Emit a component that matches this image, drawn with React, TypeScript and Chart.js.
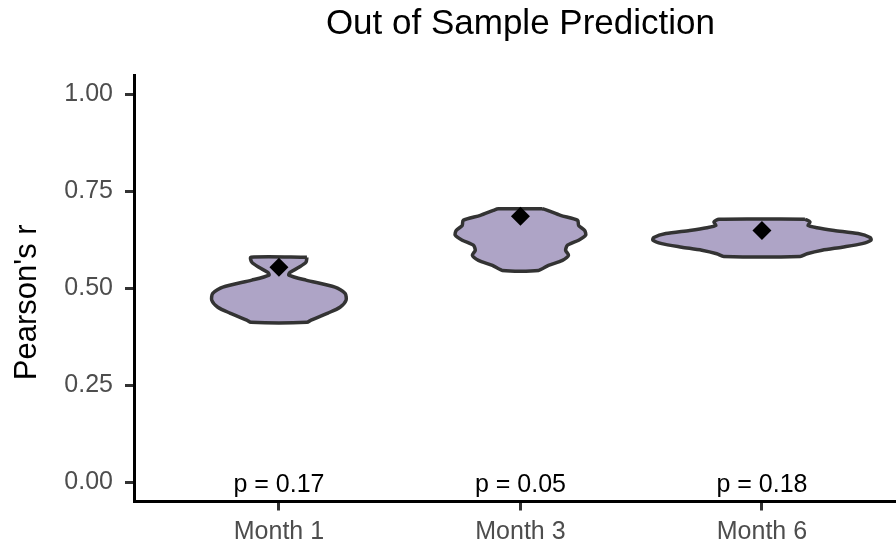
import React, { useEffect, useRef } from "react";
import { Chart, registerables } from "chart.js";

Chart.register(...registerables);

// ---------- data ----------
const categories = ["Month 1", "Month 3", "Month 6"];
const pLabels = ["p = 0.17", "p = 0.05", "p = 0.18"];
const means = [0.554, 0.686, 0.649];
const yTicks = [0, 0.25, 0.5, 0.75, 1];
const chartTitle = "Out of Sample Prediction";
const yTitle = "Pearson's r";

// violin outlines: Pearson's r levels (top -> bottom) and half widths (category units)
const violin1Y = [0.58, 0.567, 0.554, 0.541, 0.534, 0.521, 0.503, 0.487, 0.469, 0.451, 0.436, 0.418, 0.412];
const violin1W = [0.116, 0.112, 0.083, 0.046, 0.041, 0.112, 0.232, 0.274, 0.278, 0.253, 0.203, 0.133, 0.116];

const violin2Y = [0.705, 0.701, 0.688, 0.675, 0.662, 0.649, 0.637, 0.624, 0.611, 0.598, 0.585, 0.572, 0.559, 0.546];
const violin2W = [0.091, 0.112, 0.166, 0.237, 0.241, 0.266, 0.27, 0.241, 0.195, 0.187, 0.199, 0.174, 0.116, 0.075];

const violin3Y = [0.678, 0.671, 0.662, 0.656, 0.649, 0.641, 0.631, 0.624, 0.615, 0.606, 0.598, 0.589, 0.582];
const violin3W = [0.178, 0.199, 0.191, 0.228, 0.299, 0.398, 0.448, 0.452, 0.415, 0.332, 0.249, 0.187, 0.158];

const violinYs = [violin1Y, violin2Y, violin3Y];
const violinWs = [violin1W, violin2W, violin3W];

const FONT = "'Liberation Sans', Arial, sans-serif";

function violinPolygon(center: number, ys: number[], ws: number[]) {
  const right = ys.map((y, i) => ({ x: center + ws[i], y }));
  const left = ys.map((y, i) => ({ x: center - ws[i], y })).reverse();
  return [...right, ...left, right[0]];
}

const textPlugin = {
  id: "textPlugin",
  afterDraw(chart: any) {
    const { ctx, scales, chartArea } = chart;
    const xs = scales.x;
    const ys = scales.y;
    ctx.save();
    // title centred on panel
    ctx.fillStyle = "#000";
    ctx.font = `35px ${FONT}`;
    ctx.textAlign = "center";
    ctx.textBaseline = "middle";
    ctx.fillText(chartTitle, xs.getPixelForValue(2), 24);
    // y axis title
    ctx.save();
    ctx.translate(27, (chartArea.top + chartArea.bottom) / 2 + 14);
    ctx.rotate(-Math.PI / 2);
    ctx.font = `31px ${FONT}`;
    ctx.fillText(yTitle, 0, 0);
    ctx.restore();
    // p-value annotations
    ctx.font = `25px ${FONT}`;
    ctx.textBaseline = "alphabetic";
    pLabels.forEach((t, i) => {
      ctx.fillText(t, xs.getPixelForValue(i + 1), ys.getPixelForValue(0) + 10);
    });
    ctx.restore();
  },
};

export default function App() {
  const ref = useRef<HTMLCanvasElement | null>(null);
  useEffect(() => {
    if (!ref.current) return;
    const datasets: any[] = categories.map((c, i) => ({
      type: "line",
      label: c,
      data: violinPolygon(i + 1, violinYs[i], violinWs[i]),
      borderColor: "#333333",
      borderWidth: 3.5,
      backgroundColor: "#AEA4C6",
      fill: "shape",
      tension: 0.25,
      pointRadius: 0,
      borderJoinStyle: "round",
      order: 2,
    }));
    datasets.push({
      type: "scatter",
      label: "mean",
      data: means.map((m, i) => ({ x: i + 1, y: m })),
      pointStyle: "rectRot",
      pointRadius: 9.5,
      backgroundColor: "#000",
      borderColor: "#000",
      borderWidth: 0,
      order: 1,
    });
    const chart = new Chart(ref.current, {
      type: "scatter",
      data: { datasets },
      plugins: [textPlugin],
      options: {
        animation: false,
        responsive: false,
        layout: { autoPadding: false, padding: { top: 75, left: 0, right: 0, bottom: 0 } },
        plugins: { legend: { display: false }, tooltip: { enabled: false }, title: { display: false } },
        scales: {
          x: {
            type: "linear",
            min: 0.4,
            max: 3.555,
            afterFit: (s: any) => { s.height = 46.5; },
            afterBuildTicks: (s: any) => { s.ticks = categories.map((_, i) => ({ value: i + 1 })); },
            ticks: {
              callback: (v: any) => categories[Math.round(v) - 1] ?? "",
              color: "#4D4D4D",
              font: { family: FONT, size: 25 },
              padding: 7,
              maxRotation: 0,
              autoSkip: false,
            },
            grid: { drawOnChartArea: false, drawTicks: true, tickLength: 9, tickColor: "#333333", tickWidth: 3, color: "#333333" },
            border: { display: true, color: "#000", width: 3 },
          },
          y: {
            type: "linear",
            min: -0.05,
            max: 1.05,
            afterFit: (s: any) => { s.width = 134; },
            afterBuildTicks: (s: any) => { s.ticks = yTicks.map((v) => ({ value: v })); },
            ticks: {
              callback: (v: any) => Number(v).toFixed(2),
              color: "#4D4D4D",
              font: { family: FONT, size: 25 },
              padding: 12,
            },
            grid: { drawOnChartArea: false, drawTicks: true, tickLength: 9, tickColor: "#333333", tickWidth: 3, color: "#333333" },
            border: { display: true, color: "#000", width: 3 },
          },
        },
      } as any,
    });
    return () => chart.destroy();
  }, []);
  return (
    <div style={{ position: "absolute", left: 0, top: 0, width: 896, height: 548, background: "#fff" }}>
      <canvas ref={ref} width={896} height={548} />
    </div>
  );
}
